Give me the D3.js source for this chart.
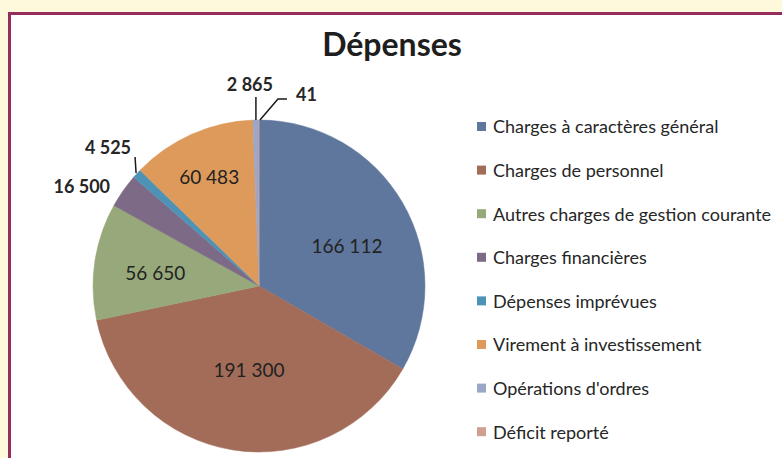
<!DOCTYPE html>
<html>
<head>
<meta charset="utf-8">
<script src="https://cdn.jsdelivr.net/npm/d3@7"></script>
<style>
  body { margin: 0; background: #fef8dc; }
  svg { display: block; }
</style>
</head>
<body>
<div id="chart"></div>
<script>
// chart data
const CATEGORIES = [
  "Charges à caractères général",
  "Charges de personnel",
  "Autres charges de gestion courante",
  "Charges financières",
  "Dépenses imprévues",
  "Virement à investissement",
  "Opérations d'ordres",
  "Déficit reporté"
];
const VALUES = [166112, 191300, 56650, 16500, 4525, 60483, 2865, 41];
const COLORS = ["#5f779d", "#a26c59", "#97a97a", "#7d6a86", "#4e93b6", "#dd9a5b", "#9aa7c9", "#cfa08f"];

// frame and pie layout
const WIDTH = 782, HEIGHT = 458;
const CX = 259, CY = 286, R = 166;
const FONT = "Lato, 'Open Sans', sans-serif";

// inside labels: [radius factor, angle nudge in degrees]
const INSIDE = {0: [0.58, 6], 1: [0.51, -2.3], 2: [0.63, -1.5], 5: [0.72, -0.7]};

const SVG = d3.select("#chart")
              .append("svg")
                .attr("width", WIDTH)
                .attr("height", HEIGHT);

// white panel with maroon border (runs off right and bottom)
SVG.append("rect")
    .attr("x", 9.5)
    .attr("y", 13.5)
    .attr("width", 820)
    .attr("height", 500)
    .attr("fill", "#ffffff")
    .attr("stroke", "#952d5c")
    .attr("stroke-width", 3);

// title
SVG.append("text")
    .attr("x", 392)
    .attr("y", 56)
    .attr("text-anchor", "middle")
    .attr("font-family", FONT)
    .attr("font-weight", "bold")
    .attr("font-size", "32px")
    .attr("fill", "#1e1e1e")
    .text("Dépenses");

const fmt = d3.formatLocale({decimal: ",", thousands: " ", grouping: [3], currency: ["", " €"]}).format(",d");

const data = CATEGORIES.map((c, i) => ({category: c, value: VALUES[i], color: COLORS[i]}));

const PIE = d3.pie()
              .sort(null)
              .value((d) => d.value);
const ARC = d3.arc().innerRadius(0).outerRadius(R);

const arcs = PIE(data);

const G = SVG.append("g")
              .attr("transform", "translate(" + CX + "," + CY + ")");

G.selectAll("slices")
  .data(arcs)
  .enter()
  .append("path")
    .attr("d", ARC)
    .attr("fill", (d) => d.data.color)
    .attr("stroke", (d) => d.data.color)
    .attr("stroke-width", 0.5);

// point on a circle of radius r at angle a (0 = top, clockwise)
function polar(a, r) {
  return [r * Math.sin(a), -r * Math.cos(a)];
}

// labels inside the big slices
arcs.forEach((d, i) => {
  if (!(i in INSIDE)) return;
  const mid = (d.startAngle + d.endAngle) / 2 + INSIDE[i][1] * Math.PI / 180;
  const p = polar(mid, R * INSIDE[i][0]);
  G.append("text")
    .attr("x", p[0])
    .attr("y", p[1])
    .attr("dy", "0.35em")
    .attr("text-anchor", "middle")
    .attr("font-family", FONT)
    .attr("font-size", "19px")
    .attr("fill", "#222222")
    .text(fmt(d.value));
});

// outside labels for the thin slices
function edge(i, r) {
  const d = arcs[i];
  return polar((d.startAngle + d.endAngle) / 2, r);
}

function outLabel(x, y, anchor, v) {
  G.append("text")
    .attr("x", x)
    .attr("y", y)
    .attr("dy", "0.35em")
    .attr("text-anchor", anchor)
    .attr("font-family", FONT)
    .attr("font-weight", "bold")
    .attr("font-size", "18px")
    .attr("fill", "#262626")
    .text(fmt(v));
}

function leader(pts) {
  G.append("path")
    .attr("d", d3.line()(pts))
    .attr("fill", "none")
    .attr("stroke", "#1a1a1a")
    .attr("stroke-width", 1.5);
}

// Charges financières: no leader line
let e = edge(3, R);
outLabel(e[0] - 13, e[1] - 4, "end", VALUES[3]);

// Dépenses imprévues
e = edge(4, R + 1);
leader([[e[0], e[1]], [e[0] - 1, e[1] - 16]]);
outLabel(e[0] - 5, e[1] - 25, "end", VALUES[4]);

// Opérations d'ordres
e = edge(6, R);
leader([[e[0], e[1]], [e[0], e[1] - 23]]);
outLabel(e[0] - 6, e[1] - 35, "middle", VALUES[6]);

// Déficit reporté
e = edge(7, R);
leader([[e[0] + 1, e[1]], [e[0] + 19, e[1] - 21], [e[0] + 28, e[1] - 21]]);
outLabel(e[0] + 37, e[1] - 25, "start", VALUES[7]);

// legend
const LEG = SVG.append("g")
                .attr("transform", "translate(477,127)");

const rows = LEG.selectAll("rows")
                .data(data)
                .enter()
                .append("g")
                  .attr("transform", (d, i) => "translate(0," + (i * 43.6) + ")");

rows.append("rect")
    .attr("x", 0)
    .attr("y", -5)
    .attr("width", 9)
    .attr("height", 9)
    .attr("fill", (d) => d.color);

rows.append("text")
    .attr("x", 16)
    .attr("y", 0)
    .attr("dy", "0.35em")
    .attr("font-family", FONT)
    .attr("font-size", "18px")
    .attr("fill", "#262626")
    .text((d) => d.category);
</script>
</body>
</html>
